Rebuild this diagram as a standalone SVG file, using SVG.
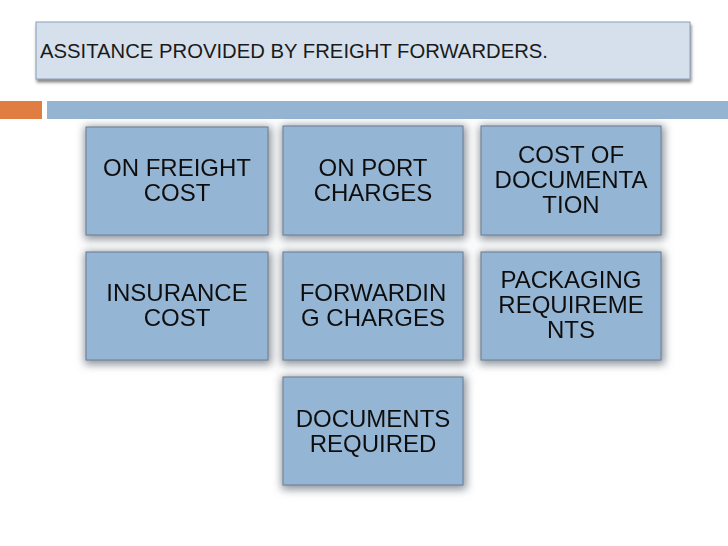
<svg xmlns="http://www.w3.org/2000/svg" width="728" height="546" viewBox="0 0 728 546">
<defs>
<filter id="halo" x="-20%" y="-20%" width="140%" height="145%">
<feMorphology in="SourceAlpha" operator="dilate" radius="2" result="d"/>
<feGaussianBlur in="d" stdDeviation="4"/>
<feOffset dx="1" dy="2" result="b"/>
<feFlood flood-color="#80878f" flood-opacity="0.9"/>
<feComposite in2="b" operator="in" result="s"/>
<feMerge><feMergeNode in="s"/><feMergeNode in="SourceGraphic"/></feMerge>
</filter>
<filter id="tshadow" x="-5%" y="-20%" width="110%" height="150%">
<feGaussianBlur in="SourceAlpha" stdDeviation="1.5"/>
<feOffset dx="1" dy="3" result="b"/>
<feFlood flood-color="#555" flood-opacity="0.7"/>
<feComposite in2="b" operator="in" result="s"/>
<feMerge><feMergeNode in="s"/><feMergeNode in="SourceGraphic"/></feMerge>
</filter>
</defs>
<style>
.box{fill:#95b5d5;stroke:#6b7d92;stroke-width:1}
.t{font-family:"Liberation Sans",Arial,sans-serif;font-size:24px;fill:#111;text-anchor:middle}
.title{font-family:"Liberation Sans",Arial,sans-serif;font-size:21px;fill:#1a1a1a}
</style>
<rect width="728" height="546" fill="#fff"/>
<g id="title">
<rect x="36" y="22" width="654" height="57" fill="#d5e0ec" stroke="#8aa0b8" stroke-width="1" filter="url(#tshadow)"/>
<text class="title" x="40" y="58" textLength="508" lengthAdjust="spacingAndGlyphs">ASSITANCE PROVIDED BY FREIGHT FORWARDERS.</text>
</g>
<g id="bars">
<rect x="0" y="101" width="42" height="18" fill="#e07d41"/>
<rect x="47" y="101" width="681" height="18" fill="#94b4d2"/>
</g>
<g id="n1" filter="url(#halo)">
<rect class="box" x="86" y="127" width="182" height="108"/>
<text class="t" x="177" y="176">ON FREIGHT</text>
<text class="t" x="177" y="201">COST</text>
</g>
<g id="n2" filter="url(#halo)">
<rect class="box" x="283" y="126" width="180" height="109"/>
<text class="t" x="373" y="176">ON PORT</text>
<text class="t" x="373" y="201">CHARGES</text>
</g>
<g id="n3" filter="url(#halo)">
<rect class="box" x="481" y="126" width="180" height="109"/>
<text class="t" x="571" y="163">COST OF</text>
<text class="t" x="571" y="188">DOCUMENTA</text>
<text class="t" x="571" y="213">TION</text>
</g>
<g id="n4" filter="url(#halo)">
<rect class="box" x="86" y="252" width="182" height="108"/>
<text class="t" x="177" y="301">INSURANCE</text>
<text class="t" x="177" y="326">COST</text>
</g>
<g id="n5" filter="url(#halo)">
<rect class="box" x="283" y="252" width="180" height="108"/>
<text class="t" x="373" y="301">FORWARDIN</text>
<text class="t" x="373" y="326">G CHARGES</text>
</g>
<g id="n6" filter="url(#halo)">
<rect class="box" x="481" y="252" width="180" height="108"/>
<text class="t" x="571" y="288">PACKAGING</text>
<text class="t" x="571" y="313">REQUIREME</text>
<text class="t" x="571" y="338">NTS</text>
</g>
<g id="n7" filter="url(#halo)">
<rect class="box" x="283" y="377" width="180" height="108"/>
<text class="t" x="373" y="427">DOCUMENTS</text>
<text class="t" x="373" y="452">REQUIRED</text>
</g>
<g id="connectors"/>
</svg>
